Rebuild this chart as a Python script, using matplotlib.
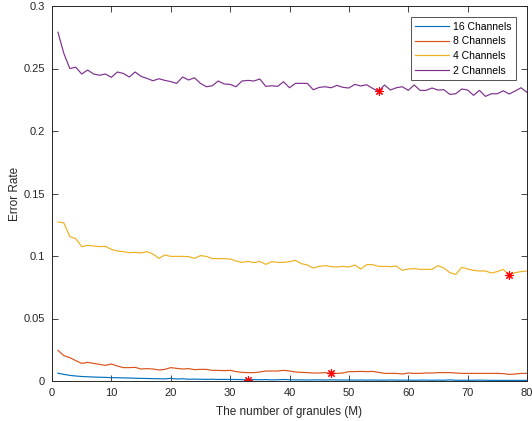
import numpy as np
import matplotlib
matplotlib.use("Agg")
import matplotlib.pyplot as plt

plt.rcParams['font.family'] = ['Liberation Sans', 'DejaVu Sans']

granules = list(range(1, 81))

ch2 = [0.279, 0.262, 0.250, 0.251, 0.2456, 0.2488, 0.2456, 0.2446, 0.2456, 0.2429,
       0.2472, 0.2461, 0.2432, 0.2472, 0.2437, 0.2421, 0.2402, 0.2418, 0.2405, 0.2395,
       0.2381, 0.2432, 0.2408, 0.2426, 0.2381, 0.2354, 0.2362, 0.2400, 0.2376, 0.2373,
       0.2354, 0.2400, 0.2405, 0.2400, 0.2416, 0.2357, 0.2362, 0.2357, 0.2394, 0.2346,
       0.2381, 0.2381, 0.2381, 0.2330, 0.2349, 0.2354, 0.2346, 0.2365, 0.2349, 0.2344,
       0.2373, 0.2360, 0.2370, 0.2341, 0.2317, 0.2368, 0.2328, 0.2346, 0.2354, 0.2325,
       0.2368, 0.2325, 0.2325, 0.2344, 0.2328, 0.2330, 0.2293, 0.2298, 0.2336, 0.2328,
       0.2285, 0.2325, 0.2277, 0.2298, 0.2298, 0.2322, 0.2296, 0.2320, 0.2346, 0.2309]

ch4 = [0.1272, 0.1264, 0.1155, 0.1139, 0.1075, 0.1085, 0.1080, 0.1075, 0.1077, 0.1053,
       0.1040, 0.1035, 0.1027, 0.1029, 0.1024, 0.1035, 0.1016, 0.0981, 0.1008, 0.0997,
       0.0997, 0.0997, 0.0995, 0.0981, 0.1003, 0.0997, 0.0979, 0.0979, 0.0979, 0.0976,
       0.0960, 0.0949, 0.0957, 0.0947, 0.0957, 0.0933, 0.0955, 0.0949, 0.0949, 0.0955,
       0.0965, 0.0939, 0.0928, 0.0904, 0.0917, 0.0923, 0.0915, 0.0912, 0.0917, 0.0912,
       0.0928, 0.0896, 0.0931, 0.0931, 0.0917, 0.0917, 0.0915, 0.0920, 0.0885, 0.0896,
       0.0899, 0.0893, 0.0893, 0.0893, 0.0923, 0.0904, 0.0867, 0.0853, 0.0909, 0.0896,
       0.0885, 0.0880, 0.0880, 0.0864, 0.0875, 0.0893, 0.0848, 0.0867, 0.0875, 0.0880]

ch8 = [0.0245, 0.0203, 0.0187, 0.0163, 0.0141, 0.0149, 0.0141, 0.0133, 0.0125, 0.0136,
       0.0120, 0.0107, 0.0107, 0.0109, 0.0096, 0.0099, 0.0096, 0.0088, 0.0093, 0.0107,
       0.0101, 0.0096, 0.0099, 0.0091, 0.0093, 0.0093, 0.0085, 0.0085, 0.0083, 0.0085,
       0.0075, 0.0069, 0.0067, 0.0067, 0.0072, 0.0080, 0.0080, 0.0080, 0.0085, 0.0080,
       0.0072, 0.0069, 0.0067, 0.0064, 0.0064, 0.0067, 0.0061, 0.0061, 0.0064, 0.0075,
       0.0075, 0.0077, 0.0075, 0.0077, 0.0069, 0.0061, 0.0061, 0.0061, 0.0056, 0.0064,
       0.0061, 0.0061, 0.0064, 0.0064, 0.0067, 0.0067, 0.0067, 0.0064, 0.0061, 0.0061,
       0.0061, 0.0061, 0.0061, 0.0061, 0.0061, 0.0059, 0.0053, 0.0056, 0.0061, 0.0061]

ch16 = [0.0062, 0.0053, 0.0045, 0.0040, 0.0036, 0.0034, 0.0032, 0.0030, 0.0029, 0.0027,
        0.0026, 0.0025, 0.0024, 0.0022, 0.0021, 0.0020, 0.0019, 0.0018, 0.0017, 0.0021,
        0.0016, 0.0018, 0.0014, 0.0015, 0.0014, 0.0013, 0.0014, 0.0012, 0.0013, 0.0012,
        0.0012, 0.0011, 0.0008, 0.0011, 0.0010, 0.0011, 0.0009, 0.0010, 0.0012, 0.0010,
        0.0009, 0.0009, 0.0008, 0.0009, 0.0009, 0.0008, 0.0009, 0.0008, 0.0008, 0.0008,
        0.0007, 0.0008, 0.0007, 0.0008, 0.0007, 0.0007, 0.0008, 0.0007, 0.0007, 0.0007,
        0.0006, 0.0007, 0.0007, 0.0006, 0.0007, 0.0006, 0.0009, 0.0006, 0.0006, 0.0006,
        0.0006, 0.0007, 0.0006, 0.0005, 0.0005, 0.0005, 0.0005, 0.0005, 0.0005, 0.0005]

labels = ['16 Channels', '8 Channels', '4 Channels', '2 Channels']
colors = ['#0072BD', '#D95319', '#EDB120', '#7E2F8E']

best_x = [33, 47, 77, 55]
best_y = [0.0008, 0.0067, 0.0848, 0.2317]

fig = plt.figure(figsize=(5.32, 4.21), dpi=100)
ax = fig.add_axes([52/532, 1-381/421, 475/532, 375/421])

for data, lab, col in zip([ch16, ch8, ch4, ch2], labels, colors):
    ax.plot(granules, data, color=col, lw=0.85, label=lab)

ax.plot(best_x, best_y, linestyle='none', marker=(8, 2, 0), color='#FF0000',
        markersize=6, markeredgewidth=0.8)

ax.set_xlim(0, 80)
ax.set_ylim(0, 0.3)
ax.set_xticks(range(0, 81, 10))
ax.set_yticks([0, 0.05, 0.1, 0.15, 0.2, 0.25, 0.3])
ax.set_yticklabels(['0', '0.05', '0.1', '0.15', '0.2', '0.25', '0.3'])
ax.tick_params(direction='in', top=True, right=True, length=4, width=0.6,
               labelsize=8, colors='#262626')
ax.tick_params(axis='x', pad=5)
ax.tick_params(axis='y', pad=5)
for s in ax.spines.values():
    s.set_linewidth(0.7)
    s.set_color('#262626')
ax.set_xlabel('The number of granules (M)', fontsize=8.5, color='#262626', labelpad=6)
ax.set_ylabel('Error Rate', fontsize=8.5, color='#262626', labelpad=2)

leg = ax.legend(loc='upper right', fontsize=7.5, frameon=True, fancybox=False,
                edgecolor='#262626', borderaxespad=1.05, handlelength=3.2,
                handletextpad=0.4, labelspacing=0.45, borderpad=0.45)
leg.get_frame().set_linewidth(0.7)

fig.savefig('out.png', dpi=100)
